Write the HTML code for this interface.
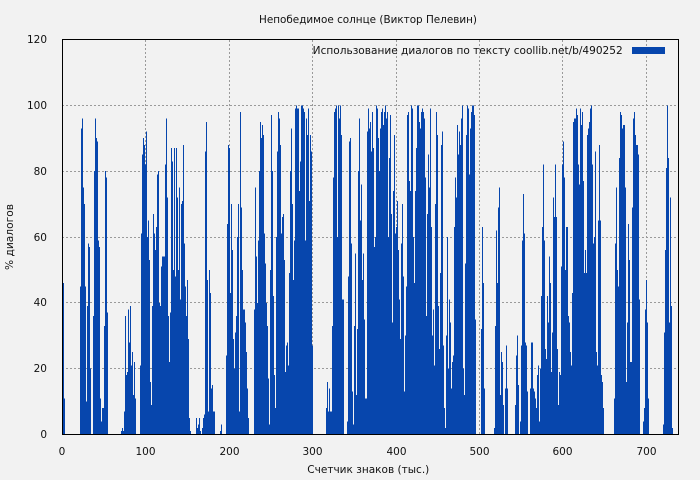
<!DOCTYPE html>
<html><head><meta charset="utf-8"><style>
html,body{margin:0;padding:0;background:#f2f2f2;}
svg{display:block;}
text{font-family:"DejaVu Sans","Liberation Sans",sans-serif;font-size:10.5px;fill:#111;}
</style></head><body>
<svg width="700" height="480" viewBox="0 0 700 480" xmlns="http://www.w3.org/2000/svg">
<rect x="0" y="0" width="700" height="480" fill="#f2f2f2"/>
<g stroke="#9a9a9a" stroke-width="1" stroke-dasharray="2,2" fill="none">
<line x1="62" y1="368.5" x2="678" y2="368.5"/>
<line x1="62" y1="302.5" x2="678" y2="302.5"/>
<line x1="62" y1="237.5" x2="678" y2="237.5"/>
<line x1="62" y1="171.5" x2="678" y2="171.5"/>
<line x1="62" y1="105.5" x2="678" y2="105.5"/>
<line x1="145.5" y1="40" x2="145.5" y2="434"/>
<line x1="229.5" y1="40" x2="229.5" y2="434"/>
<line x1="312.5" y1="40" x2="312.5" y2="434"/>
<line x1="396.5" y1="40" x2="396.5" y2="434"/>
<line x1="479.5" y1="40" x2="479.5" y2="434"/>
<line x1="562.5" y1="40" x2="562.5" y2="434"/>
<line x1="646.5" y1="40" x2="646.5" y2="434"/>
</g>
<g transform="translate(0 434.5) scale(1 -3.2917)">
<path fill="#0746ad" shape-rendering="crispEdges" d="M62 0
V70h1V46h1V11h1V0h15
V45h1V93h1V96h1V75h1V70h1V45h1V10h1V39h1V58h1V57h1V20h1V0h2V36h1V80h1V96h1V90h1V89h1V59h1V57h1V11h1V4h1V8h2V33h1V80h1V78h1V37h1V0h13
V1h1V2h1V1h1V7h1V36h1V18h1V19h1V38h1V28h1V39h1V21h1V25h1V12h1V22h1V11h1V0h4
V21h1V61h1V85h1V90h1V88h1V82h1V92h1V60h1V65h1V53h1V16h1V9h1V39h1V67h1V61h1V56h1V63h1V79h1V80h1V40h1V39h1V51h1V54h3
V82h1V96h1V72h1V36h1V22h1V37h1V87h1V83h1V50h1V87h1V48h1V87h1V72h1V50h1V75h1V41h1V70h1V71h1V88h1V58h1V45h1V36h1V47h1V29h1V5h1V1h1V0h5
V5h1V2h1V3h1V5h1V1h1V0h1V2h1V5h1V6h1V86h1V95h1V47h1V7h1V50h1V43h1V14h1V15h1V7h2V0h5
V1h1V3h1V0h4
V24h1V64h1V88h1V87h1V43h1V70h1V56h1V29h1V20h1V31h1V36h1V60h1V70h1V7h1V98h1V69h1V50h1V38h2V34h1V25h1V14h1V5h1V0h5
V38h1V75h1V54h1V40h1V59h1V80h1V95h1V90h1V94h1V91h1V61h1V52h1V40h1V33h1
V17h1V3h1V50h1V97h1V80h1V42h1V18h1V8h1V60h1V86h1V98h1V96h1V88h1V61h1V66h1V67h1V53h1V19h1V27h1V28h1V21h1V49h1V80h1V93h1V70h1V47h1V59h1V99h1V100h1V99h2V74h1V83h1V100h2V99h1V98h1V59h1V96h1V91h1V99h1V71h1V91h1V86h1V27h1V0h13
V8h1V16h1V7h1V14h1V7h2V33h1V78h1V98h1V99h1V100h1V60h1V100h1V96h1V100h1V91h1V41h2V0h3
V4h1V48h1V89h1V90h1V58h1V13h1V3h1V33h1V55h1V12h1V32h1V80h1V96h1V65h1V76h1V47h1V55h1V35h1V11h2V92h1V99h1V93h1V95h1
V86h1V98h1V87h1V57h1V60h1V100h1V99h1V90h1V80h1V93h1
V98h1V99h1V94h1V98h1V100h1V96h1V98h1V60h1V84h1V97h1
V67h1V34h1V74h1V91h1V61h1V63h1V71h1V56h1V41h1V29h1
V58h1V70h1V48h1V13h1V30h1V45h1V97h1V98h1V77h1V74h1
V100h1V99h1V60h1V46h1V74h1V87h1V100h2V95h1V93h1
V98h1V99h1V98h1V96h1V78h1V36h1V67h1V85h1V75h1V99h1
V63h1V30h1V38h1V21h1V70h1V98h1V91h1V39h1V26h1V49h1
V88h1V92h1V27h1V8h1V2h1V30h1V60h1V20h1V41h1V34h1
V14h1V22h1V24h1V63h1V78h1V72h1V94h1V85h1V92h1V88h1
V96h1V100h1V20h1V12h1V52h1V91h1V100h1V99h1V79h1V93h1
V98h1V100h2
V97h1V35h1V0h5
V32h1V63h1V46h1V14h1V0h9
V2h1V33h1V62h1V46h1V69h1V75h1V12h1V25h1V22h1V9h1V0h1V14h1V27h1V14h1V0h7
V9h1V24h1V30h1V15h1V0h1V4h1V27h1V59h1V73h1V61h1
V28h1V27h1V13h1V0h2V14h1V28h2V14h1V13h1
V11h1V8h1V18h1V21h1V4h1V20h1V42h1V63h1V82h1V59h1
V26h1V23h1V42h1V34h1V54h1V46h1V19h1V31h1V72h1V66h1
V82h1V66h1V26h1V9h1V19h1V18h1V51h1V82h1V89h1V78h1
V50h1V63h2V36h1V34h1V25h1V21h1V43h1V95h1V96h1
V96h1V99h1V97h1V82h1V76h1V99h1V94h1V98h1V77h1V49h1
V56h1V49h1V91h1V93h1V95h1V99h1V100h1V82h1V58h1V60h1
V86h1V25h1V21h1V65h1V88h1V65h1V18h1V16h1V8h1V0h10
V11h1V58h1V75h1V50h1V45h1V84h1V98h1V97h1V93h1V94h2V75h1V16h1V34h1V64h1V53h1V22h2V69h1V96h1V98h1V91h1V88h2V85h1V41h1V0h3
V4h1V8h1V38h1V47h1V34h1V11h1V0h14
V3h1V31h1V56h1V81h1V100h1V84h1V34h1V72h1V39h1V2h1V0Z"/>
</g>
<rect x="62.5" y="39.5" width="616" height="395" fill="none" stroke="#000" stroke-width="1"/>
<text x="368" y="23" text-anchor="middle" textLength="218" lengthAdjust="spacingAndGlyphs">Непобедимое солнце (Виктор Пелевин)</text>
<text x="312.7" y="54" textLength="310" lengthAdjust="spacingAndGlyphs">Использование диалогов по тексту  coollib.net/b/490252</text>
<rect x="632" y="47" width="33" height="7" fill="#0746ad"/>
<g text-anchor="end">
<text x="47" y="43">120</text>
<text x="47" y="109">100</text>
<text x="47" y="175">80</text>
<text x="47" y="241">60</text>
<text x="47" y="306">40</text>
<text x="47" y="372">20</text>
<text x="47" y="438">0</text>
</g>
<g text-anchor="middle">
<text x="62" y="455">0</text>
<text x="145.5" y="455">100</text>
<text x="229.5" y="455">200</text>
<text x="312.5" y="455">300</text>
<text x="396.5" y="455">400</text>
<text x="479.5" y="455">500</text>
<text x="562.5" y="455">600</text>
<text x="646.5" y="455">700</text>
</g>
<text x="368.3" y="473" text-anchor="middle" textLength="122" lengthAdjust="spacingAndGlyphs">Счетчик знаков (тыс.)</text>
<text transform="translate(13 237) rotate(-90)" text-anchor="middle" textLength="66" lengthAdjust="spacingAndGlyphs">% диалогов</text>
</svg>
</body></html>
